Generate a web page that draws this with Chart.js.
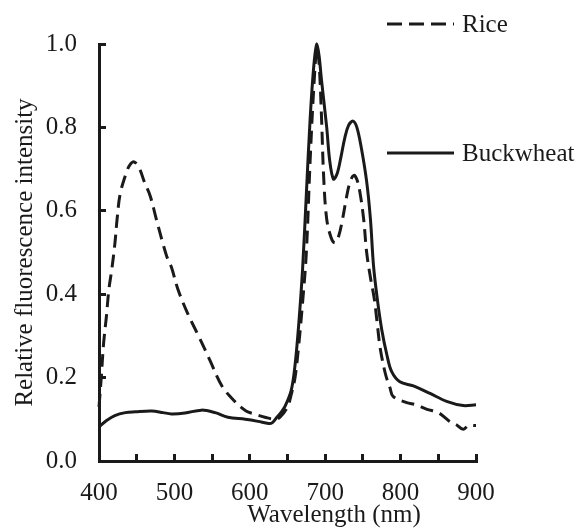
<!DOCTYPE html>
<html>
<head>
<meta charset="utf-8">
<script src="https://cdn.jsdelivr.net/npm/chart.js@4.4.1/dist/chart.umd.min.js"></script>
<style>
  html, body { margin: 0; padding: 0; background: #fff; }
  #wrap { width: 582px; height: 528px; position: relative; }
</style>
</head>
<body>
<div id="wrap"><canvas id="spectrum"></canvas></div>
<script>
// values
const seriesNames = ['Rice', 'Buckwheat'];

const riceWavelength = [400, 403, 406, 410, 413, 417, 421, 424, 428, 436,
  441, 447, 454, 460, 468, 476, 485, 490, 496, 505,
  518, 532, 547, 563, 580, 595, 607, 620, 633, 640,
  650, 655, 660, 665, 670, 675, 680, 685, 689, 692,
  695, 698, 702, 708, 713, 718, 723, 728, 733, 738,
  742, 746, 751, 755, 760, 765, 769, 773, 780, 786,
  790, 808, 820, 835, 850, 865, 874, 883, 890, 900];
const riceIntensity = [0.13, 0.2, 0.28, 0.35, 0.41, 0.46, 0.52, 0.58, 0.64, 0.69,
  0.71, 0.717, 0.70, 0.67, 0.635, 0.58, 0.52, 0.49, 0.465, 0.41,
  0.352, 0.30, 0.242, 0.18, 0.143, 0.12, 0.112, 0.105, 0.10, 0.105,
  0.13, 0.16, 0.2, 0.28, 0.38, 0.5, 0.72, 0.9, 0.99, 0.95,
  0.83, 0.68, 0.58, 0.535, 0.523, 0.54, 0.58, 0.63, 0.67, 0.685,
  0.675, 0.645, 0.58, 0.5, 0.44, 0.39, 0.33, 0.27, 0.208, 0.175,
  0.155, 0.14, 0.135, 0.124, 0.116, 0.095, 0.087, 0.076, 0.085, 0.085];

const buckwheatWavelength = [400, 410, 421, 435, 448, 470, 485, 496, 514, 536,
  554, 571, 594, 611, 625, 630, 636, 642, 647, 655,
  660, 665, 670, 675, 680, 685, 689, 692, 695, 702,
  706, 711, 716, 721, 726, 731, 737, 742, 748, 755,
  760, 764, 769, 775, 782, 788, 799, 817, 839, 861,
  883, 900];
const buckwheatIntensity = [0.082, 0.097, 0.109, 0.116, 0.118, 0.12, 0.116, 0.113, 0.115, 0.122,
  0.116, 0.105, 0.10, 0.095, 0.09, 0.092, 0.105, 0.118, 0.132, 0.17,
  0.23, 0.33, 0.46, 0.64, 0.82, 0.95, 1.0, 0.97, 0.915, 0.80,
  0.72, 0.676, 0.69, 0.73, 0.775, 0.805, 0.815, 0.80, 0.75, 0.67,
  0.58, 0.47, 0.39, 0.315, 0.253, 0.215, 0.19, 0.18, 0.162, 0.143,
  0.133, 0.135];

const xTitle = 'Wavelength (nm)';
const yTitle = 'Relative fluorescence intensity';

const ink = '#1a1a1a';
const serif = '"Liberation Serif", "Times New Roman", serif';
const riceDash = [13, 7];

function toPoints(xs, ys) {
    return xs.map((x, i) => ({ x: x, y: ys[i] }));
}

// legend entries on the right and the x title, drawn after the chart
const annotate = {
    id: 'annotate',
    afterDraw(chart) {
        const ctx = chart.ctx;
        const area = chart.chartArea;
        ctx.save();
        ctx.strokeStyle = ink;
        ctx.fillStyle = ink;
        ctx.lineWidth = 3;
        ctx.font = '25px ' + serif;
        ctx.textBaseline = 'middle';
        ctx.textAlign = 'left';

        const rows = [
            { label: seriesNames[0], y: 24, dash: [15, 7] },
            { label: seriesNames[1], y: 153, dash: [] }
        ];
        const x0 = area.right - 89;
        rows.forEach(r => {
            ctx.setLineDash(r.dash);
            ctx.beginPath();
            ctx.moveTo(x0, r.y);
            ctx.lineTo(x0 + 67, r.y);
            ctx.stroke();
            ctx.fillText(r.label, x0 + 75, r.y + 1);
        });

        ctx.setLineDash([]);
        ctx.textAlign = 'center';
        ctx.fillText(xTitle, 334, 515);
        ctx.restore();
    }
};

new Chart(document.getElementById('spectrum'), {
    type: 'line',
    data: {
        datasets: [{
            label: seriesNames[0],
            data: toPoints(riceWavelength, riceIntensity),
            borderColor: ink,
            borderWidth: 3,
            borderDash: riceDash,
            pointRadius: 0,
            tension: 0.35,
            fill: false,
            clip: false
        }, {
            label: seriesNames[1],
            data: toPoints(buckwheatWavelength, buckwheatIntensity),
            borderColor: ink,
            borderWidth: 3,
            pointRadius: 0,
            tension: 0.35,
            fill: false,
            clip: false
        }]
    },
    options: {
        responsive: true,
        maintainAspectRatio: false,
        animation: false,
        layout: { padding: { top: 23, right: 106, bottom: 0, left: 0 } },
        plugins: {
            legend: { display: false },
            tooltip: { enabled: false }
        },
        scales: {
            x: {
                type: 'linear',
                min: 400,
                max: 900,
                afterFit(scale) { scale.height = 67; },
                border: { color: ink, width: 3 },
                grid: { drawOnChartArea: false, drawTicks: true, tickLength: -7, tickWidth: 3, tickColor: ink },
                ticks: {
                    stepSize: 50,
                    padding: 24,
                    color: ink,
                    font: { family: serif, size: 25 },
                    maxRotation: 0,
                    autoSkip: false,
                    callback: v => (v % 100 === 0 ? String(v) : '')
                }
            },
            y: {
                min: 0,
                max: 1,
                afterFit(scale) { scale.width = 99; },
                border: { color: ink, width: 3 },
                grid: { drawOnChartArea: false, drawTicks: true, tickLength: -7, tickWidth: 3, tickColor: ink },
                ticks: {
                    stepSize: 0.2,
                    padding: 29,
                    color: ink,
                    font: { family: serif, size: 25 },
                    callback: v => v.toFixed(1)
                },
                title: {
                    display: true,
                    text: yTitle,
                    color: ink,
                    font: { family: serif, size: 25 },
                    padding: { top: 10, bottom: 0 }
                }
            }
        }
    },
    plugins: [annotate]
});
</script>
</body>
</html>
